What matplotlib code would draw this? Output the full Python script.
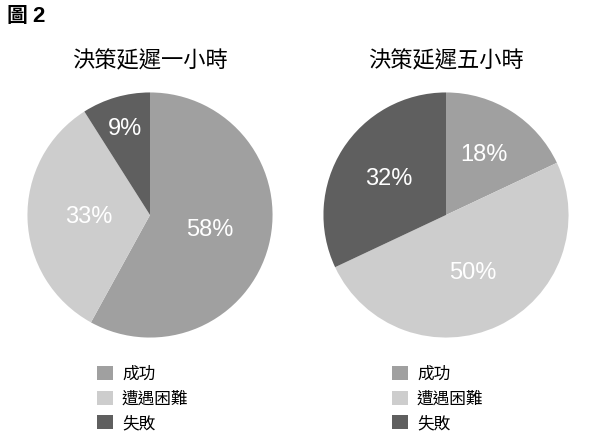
import numpy as np
import matplotlib.pyplot as plt

plt.rcParams['font.family'] = ['Noto Sans CJK TC', 'DejaVu Sans']

categories = ["成功", "遭遇困難", "失敗"]
titles = ["決策延遲一小時", "決策延遲五小時"]
values_1h = [58, 33, 9]
values_5h = [18, 50, 32]

colors = ["#a0a0a0", "#cdcdcd", "#5f5f5f"]

W, H = 600, 438
fig = plt.figure(figsize=(6, 4.38), dpi=100)
fig.patch.set_facecolor("white")

fig.text(7 / W, 1 - 16 / H, "圖", fontsize=15, fontweight="bold", va="center", ha="left")
fig.text(32 / W, 1 - 16 / H, "2", fontsize=16, fontweight="bold", va="center", ha="left",
         family="Liberation Sans")


def draw_pie(cx, values, title, label_r, legend_x):
    r = 125
    ax = fig.add_axes([(cx - r) / W, (H - 215 - r) / H, 2 * r / W, 2 * r / H])
    wedges, _ = ax.pie(values, colors=colors, startangle=90, counterclock=False,
                       radius=1, wedgeprops=dict(linewidth=0))
    ax.set_xlim(-1.02, 1.02)
    ax.set_ylim(-1.02, 1.02)
    ax.set_aspect("equal")
    ax.axis("off")
    # percentage labels
    for w, v, lr in zip(wedges, values, label_r):
        ang = np.deg2rad((w.theta1 + w.theta2) / 2)
        ax.text(lr * np.cos(ang), lr * np.sin(ang), f"{v}%", color="white",
                fontsize=17, ha="center", va="center", family="Liberation Sans")
    fig.text(cx / W, 1 - 61 / H, title, fontsize=16, ha="center", va="center")
    fig.legend(wedges, categories, loc="upper left",
               bbox_to_anchor=(legend_x / W, 1 - 366 / H),
               frameon=False, fontsize=12, handlelength=0.95, handleheight=0.95,
               handletextpad=0.55, labelspacing=0.45, borderpad=0, borderaxespad=0)


draw_pie(150, values_1h, titles[0], [0.5, 0.5, 0.73], 97)
draw_pie(446, values_5h, titles[1], [0.58, 0.52, 0.55], 392)

fig.savefig("out.png", dpi=100, facecolor="white")
